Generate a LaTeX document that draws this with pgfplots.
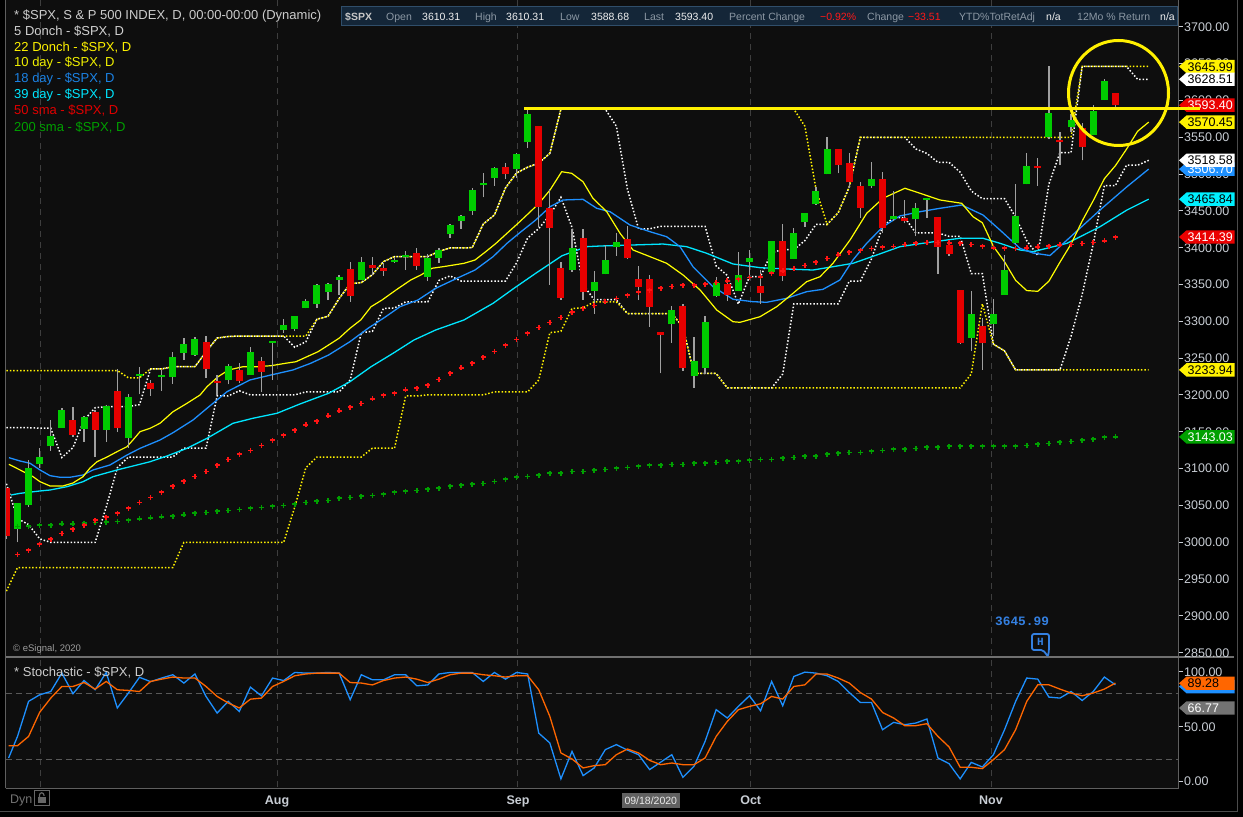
\documentclass[border=0pt]{standalone}
\usepackage{pgfplots}
\pgfplotsset{compat=1.18}
\usepackage{pgfplotstable}
\usepackage{fontspec}
\setmainfont{Liberation Sans}
\newfontfamily\monofont{Liberation Mono}
\definecolor{bgc}{RGB}{14,14,14}
\definecolor{cgreen}{RGB}{0,204,0}
\definecolor{cred}{RGB}{230,0,0}
\definecolor{wick}{RGB}{160,160,160}
\definecolor{maten}{RGB}{255,255,0}
\definecolor{maeight}{RGB}{30,144,255}
\definecolor{mathirty}{RGB}{0,230,255}
\definecolor{smafifty}{RGB}{255,20,20}
\definecolor{smatwo}{RGB}{0,160,0}
\definecolor{stk}{RGB}{30,144,255}
\definecolor{std}{RGB}{255,102,0}
\definecolor{lbl}{RGB}{200,205,212}
\definecolor{gridc}{RGB}{62,62,62}
\definecolor{gridlev}{RGB}{88,88,88}
\definecolor{framec}{RGB}{95,95,95}
\definecolor{framesep}{RGB}{112,112,112}
\definecolor{framedim}{RGB}{76,76,76}
\definecolor{barbg}{RGB}{20,38,56}
\definecolor{barbd}{RGB}{48,78,106}
\definecolor{barlab}{RGB}{140,152,164}
\definecolor{tagred}{RGB}{235,0,0}
\definecolor{tagcyan}{RGB}{0,240,255}
\definecolor{hblue}{RGB}{52,128,225}
\definecolor{circy}{RGB}{255,240,0}

\pgfplotstableread{
x o h l c
0 3018.59 3053.89 2999.74 3053.24
1 3050.20 3111.51 3047.83 3100.29
2 3105.92 3128.44 3101.17 3115.86
3 3143.64 3165.81 3124.52 3130.01
4 3155.29 3182.59 3155.29 3179.72
6 3153.07 3171.80 3136.53 3169.94
8 3152.47 3186.82 3136.22 3185.04
10 3141.11 3200.95 3127.66 3197.52
11 3225.98 3238.28 3200.76 3226.56
13 3224.21 3233.52 3205.65 3224.73
14 3224.29 3258.61 3215.16 3251.84
15 3268.52 3277.29 3247.77 3257.30
16 3254.86 3279.32 3253.10 3276.02
19 3219.84 3241.43 3214.25 3239.41
21 3227.22 3264.74 3227.22 3258.44
23 3270.45 3272.17 3220.26 3271.12
24 3288.26 3302.73 3284.53 3294.61
25 3289.92 3306.84 3286.37 3306.51
26 3317.37 3330.77 3317.37 3327.77
27 3323.17 3351.03 3318.14 3349.16
28 3340.05 3352.54 3328.72 3351.28
29 3356.04 3363.29 3335.44 3360.47
31 3355.46 3387.89 3355.46 3380.35
34 3380.86 3387.59 3379.22 3381.99
35 3387.04 3395.06 3370.15 3389.78
37 3360.48 3390.80 3354.69 3385.51
38 3386.01 3399.96 3379.31 3397.16
39 3418.09 3432.09 3413.13 3431.28
40 3435.95 3444.21 3425.84 3443.62
41 3449.97 3481.07 3444.15 3478.73
42 3485.14 3501.38 3468.35 3484.55
43 3494.69 3509.23 3484.32 3508.01
45 3507.44 3528.03 3494.60 3526.65
46 3543.76 3588.11 3535.23 3580.84
50 3369.82 3424.77 3366.84 3398.96
52 3352.70 3368.95 3310.47 3340.97
53 3363.56 3402.93 3363.56 3383.54
54 3407.73 3419.48 3389.25 3401.20
59 3295.75 3320.31 3270.95 3315.57
61 3226.14 3278.70 3209.45 3246.59
62 3236.66 3306.88 3228.44 3298.46
63 3333.90 3360.74 3332.91 3351.60
65 3341.21 3393.56 3340.47 3363.00
66 3385.87 3397.18 3361.39 3380.80
68 3367.27 3409.57 3367.27 3408.60
70 3384.56 3426.26 3384.56 3419.44
71 3434.28 3447.28 3428.15 3446.83
72 3459.67 3482.34 3458.07 3477.14
73 3500.02 3549.85 3499.61 3534.22
77 3493.50 3515.76 3480.45 3483.81
79 3439.38 3476.93 3435.65 3443.12
81 3438.50 3460.53 3415.34 3453.49
82 3464.90 3466.46 3440.45 3465.39
86 3277.17 3341.05 3259.82 3310.11
88 3296.20 3330.14 3279.74 3310.24
89 3336.25 3389.49 3336.25 3369.16
90 3406.46 3486.25 3405.17 3443.44
91 3485.74 3529.05 3485.74 3510.45
93 3583.04 3645.99 3547.48 3550.50
95 3563.22 3581.16 3557.00 3572.66
97 3552.57 3593.66 3552.57 3585.15
98 3600.16 3628.51 3600.16 3626.91
}\greenC

\pgfplotstableread{
x o h l c
-1 3073.17 3073.73 3004.63 3009.05
5 3166.44 3184.15 3142.93 3145.32
7 3176.17 3179.78 3115.70 3152.05
9 3205.08 3235.32 3149.43 3155.22
12 3208.36 3220.39 3198.59 3215.57
17 3271.64 3279.99 3222.66 3235.66
18 3218.58 3227.26 3200.05 3215.63
20 3234.27 3243.72 3216.17 3218.44
22 3231.76 3250.92 3204.13 3246.22
30 3370.34 3381.01 3326.44 3333.69
32 3372.95 3387.24 3363.35 3373.43
33 3368.66 3378.51 3361.64 3372.85
36 3392.51 3399.54 3369.66 3374.85
44 3509.73 3514.77 3493.25 3500.31
47 3564.74 3564.85 3427.41 3455.06
48 3453.60 3479.15 3349.63 3426.96
49 3371.88 3379.97 3329.27 3331.84
51 3412.56 3425.55 3329.25 3339.19
55 3411.23 3428.92 3384.45 3385.49
56 3346.86 3375.17 3328.82 3357.01
57 3357.38 3362.27 3292.40 3319.47
58 3285.57 3285.57 3229.10 3281.06
60 3320.11 3323.35 3232.57 3236.92
64 3350.92 3357.92 3327.54 3335.47
67 3338.94 3369.10 3323.69 3348.42
69 3408.74 3431.56 3354.54 3360.97
74 3534.01 3534.01 3500.86 3511.93
75 3515.47 3527.94 3480.55 3488.67
76 3453.72 3489.08 3440.89 3483.34
78 3493.66 3502.42 3419.93 3426.92
80 3439.91 3464.86 3433.06 3435.56
83 3441.42 3441.42 3364.86 3400.97
84 3403.15 3409.51 3388.71 3390.68
85 3342.48 3342.48 3268.89 3271.03
87 3293.59 3304.93 3233.94 3269.96
92 3508.34 3521.58 3484.34 3509.44
94 3543.26 3557.22 3511.91 3545.53
96 3562.67 3569.02 3518.58 3537.01
99 3610.31 3610.31 3588.68 3593.40
}\redC

\pgfplotstableread{
x u5 l5 u22 l22
-1 3155.53 3079.39 3233.13 2933.59
0 3155.53 3032.13 3233.13 2965.66
1 3155.53 3024.01 3233.13 2965.66
2 3154.90 3004.63 3233.13 2965.66
3 3154.90 2999.74 3233.13 2965.66
4 3115.01 2999.74 3233.13 2965.66
5 3128.44 2999.74 3233.13 2965.66
6 3165.81 2999.74 3233.13 2965.66
7 3182.59 2999.74 3233.13 2965.66
8 3184.15 3047.83 3233.13 2965.66
9 3184.15 3101.17 3233.13 2965.66
10 3184.15 3115.70 3223.27 2965.66
11 3186.82 3115.70 3223.27 2965.66
12 3235.32 3115.70 3235.32 2965.66
13 3235.32 3115.70 3235.32 2965.66
14 3238.28 3115.70 3238.28 2965.66
15 3238.28 3127.66 3238.28 2999.74
16 3238.28 3127.66 3238.28 2999.74
17 3258.61 3127.66 3258.61 2999.74
18 3277.29 3198.59 3277.29 2999.74
19 3279.32 3198.59 3279.32 2999.74
20 3279.99 3205.65 3279.99 2999.74
21 3279.99 3200.05 3279.99 2999.74
22 3279.99 3200.05 3279.99 2999.74
23 3279.99 3200.05 3279.99 2999.74
24 3279.99 3200.05 3279.99 2999.74
25 3264.74 3200.05 3279.99 3047.83
26 3272.17 3204.13 3279.99 3101.17
27 3302.73 3204.13 3302.73 3115.70
28 3306.84 3204.13 3306.84 3115.70
29 3330.77 3204.13 3330.77 3115.70
30 3351.03 3220.26 3351.03 3115.70
31 3352.54 3284.53 3352.54 3115.70
32 3363.29 3286.37 3363.29 3127.66
33 3381.01 3317.37 3381.01 3127.66
34 3387.89 3318.14 3387.89 3127.66
35 3387.89 3326.44 3387.89 3198.59
36 3387.89 3326.44 3387.89 3198.59
37 3387.89 3326.44 3387.89 3200.05
38 3395.06 3355.46 3395.06 3200.05
39 3399.54 3361.64 3399.54 3200.05
40 3399.54 3354.69 3399.54 3200.05
41 3399.96 3354.69 3399.96 3200.05
42 3432.09 3354.69 3432.09 3200.05
43 3444.21 3354.69 3444.21 3204.13
44 3481.07 3354.69 3481.07 3204.13
45 3501.38 3379.31 3501.38 3204.13
46 3509.23 3413.13 3509.23 3204.13
47 3514.77 3425.84 3514.77 3220.26
48 3528.03 3444.15 3528.03 3284.53
49 3588.11 3468.35 3588.11 3286.37
50 3588.11 3427.41 3588.11 3317.37
51 3588.11 3349.63 3588.11 3318.14
52 3588.11 3329.27 3588.11 3326.44
53 3588.11 3329.27 3588.11 3326.44
54 3564.85 3329.25 3588.11 3326.44
55 3479.15 3310.47 3588.11 3310.47
56 3425.55 3310.47 3588.11 3310.47
57 3425.55 3310.47 3588.11 3310.47
58 3428.92 3310.47 3588.11 3310.47
59 3428.92 3310.47 3588.11 3310.47
60 3428.92 3292.40 3588.11 3292.40
61 3428.92 3229.10 3588.11 3229.10
62 3428.92 3229.10 3588.11 3229.10
63 3375.17 3229.10 3588.11 3229.10
64 3362.27 3209.45 3588.11 3209.45
65 3323.35 3209.45 3588.11 3209.45
66 3360.74 3209.45 3588.11 3209.45
67 3360.74 3209.45 3588.11 3209.45
68 3393.56 3209.45 3588.11 3209.45
69 3397.18 3228.44 3588.11 3209.45
70 3397.18 3323.69 3588.11 3209.45
71 3409.57 3323.69 3564.85 3209.45
72 3431.56 3323.69 3479.15 3209.45
73 3431.56 3323.69 3431.56 3209.45
74 3447.28 3323.69 3447.28 3209.45
75 3482.34 3354.54 3482.34 3209.45
76 3549.85 3354.54 3549.85 3209.45
77 3549.85 3384.56 3549.85 3209.45
78 3549.85 3428.15 3549.85 3209.45
79 3549.85 3440.89 3549.85 3209.45
80 3549.85 3440.89 3549.85 3209.45
81 3534.01 3419.93 3549.85 3209.45
82 3527.94 3419.93 3549.85 3209.45
83 3515.76 3419.93 3549.85 3209.45
84 3515.76 3415.34 3549.85 3209.45
85 3502.42 3415.34 3549.85 3209.45
86 3476.93 3364.86 3549.85 3228.44
87 3466.46 3364.86 3549.85 3323.69
88 3466.46 3268.89 3549.85 3268.89
89 3466.46 3259.82 3549.85 3259.82
90 3441.42 3233.94 3549.85 3233.94
91 3409.51 3233.94 3549.85 3233.94
92 3389.49 3233.94 3549.85 3233.94
93 3486.25 3233.94 3549.85 3233.94
94 3529.05 3233.94 3549.85 3233.94
95 3529.05 3279.74 3549.85 3233.94
96 3645.99 3336.25 3645.99 3233.94
97 3645.99 3405.17 3645.99 3233.94
98 3645.99 3484.34 3645.99 3233.94
99 3645.99 3484.34 3645.99 3233.94
100 3645.99 3511.91 3645.99 3233.94
101 3628.51 3511.91 3645.99 3233.94
102 3628.51 3518.58 3645.99 3233.94
}\donch

\pgfplotstableread{
x y
-0.77 3105.8
0.23 3098.1
1.40 3089.0
2.03 3082.2
2.93 3076.4
4.10 3076.4
5.00 3080.4
5.91 3089.0
6.54 3100.8
7.17 3109.3
8.07 3115.7
8.97 3122.9
9.87 3129.7
10.41 3138.8
11.05 3150.1
11.95 3154.7
12.85 3161.5
14.02 3177.2
15.28 3188.6
16.46 3199.9
17.09 3211.2
18.08 3224.7
19.04 3233.9
20.33 3238.3
21.60 3238.3
22.86 3239.7
24.18 3243.0
25.11 3245.1
26.10 3251.9
27.10 3258.7
28.05 3267.8
28.99 3276.9
29.98 3290.5
30.95 3301.8
31.88 3319.8
32.87 3328.9
34.13 3342.5
35.46 3356.1
36.38 3362.9
37.38 3372.0
38.37 3374.1
39.32 3376.4
40.26 3378.7
41.25 3383.2
42.22 3394.5
43.15 3405.9
44.14 3419.5
45.13 3433.0
46.09 3446.6
47.03 3460.2
48.02 3478.3
49.07 3503.1
49.97 3500.9
50.99 3489.5
51.89 3467.0
53.13 3448.8
54.33 3419.5
55.50 3396.8
57.04 3387.7
58.54 3378.7
60.01 3362.9
61.55 3342.5
63.05 3315.3
64.52 3299.4
65.15 3298.6
66.95 3306.2
68.46 3319.8
69.93 3338.0
71.16 3353.8
72.36 3360.5
73.53 3378.7
75.07 3410.4
76.57 3446.6
78.04 3467.0
80.02 3480.6
81.38 3473.8
83.18 3464.7
85.14 3460.2
86.16 3442.0
87 3433.8
88 3401.7
89 3380.8
90 3355.6
91 3341.7
92 3340.7
93 3354.4
94 3380.3
95 3404.9
96 3436.1
97 3463.8
98 3493.5
99 3511.3
100 3533.7
101 3558.0
102 3570.45
}\maTen

\pgfplotstableread{
x y
-0.77 3114.8
0.23 3110.3
1.13 3107.2
2.03 3098.1
2.93 3090.4
3.83 3088.2
4.73 3088.2
5.91 3091.3
6.81 3098.1
8.34 3104.9
9.87 3118.4
11.05 3127.5
12.85 3138.8
14.02 3148.7
15.83 3166.0
17.09 3181.9
17.99 3193.1
18.89 3204.4
20.96 3220.3
22.86 3227.1
24.84 3233.9
26.44 3243.0
28.05 3254.2
29.98 3272.3
31.61 3290.5
33.20 3306.2
34.49 3319.8
36.11 3328.9
37.71 3344.8
39.63 3358.4
41.25 3369.6
42.88 3387.7
44.14 3405.9
45.40 3421.6
46.73 3437.5
48.02 3455.6
49.19 3464.7
50.99 3465.6
52.23 3453.4
53.43 3448.8
55.23 3430.7
57.04 3421.6
58.54 3414.8
59.74 3401.3
60.91 3374.1
62.71 3347.0
64.52 3329.9
66.32 3326.6
67.56 3325.8
69.36 3331.2
71.16 3340.2
72.63 3343.4
74.16 3356.1
75.33 3383.2
76.57 3405.9
78.04 3428.4
79.57 3443.0
81.38 3448.8
83.18 3453.4
85.14 3457.9
87.06 3444.3
88.59 3423.9
90.39 3399.1
91.57 3392.7
93.1 3389.3
94.64 3410.4
97.61 3451.1
100.04 3482.7
102 3506.70
}\maEighteen

\pgfplotstableread{
x y
-0.59 3064.1
0.23 3066.4
2.03 3069.6
2.93 3070.9
4.46 3075.4
5.91 3082.2
6.81 3089.0
8.97 3098.1
10.41 3103.5
11.95 3109.3
13.48 3117.1
15.28 3127.5
17.09 3141.1
19.43 3161.5
21.23 3168.3
23.40 3175.1
25.47 3187.7
28.05 3202.2
29.98 3218.0
31.88 3238.3
33.86 3256.5
35.75 3274.6
37.71 3288.2
40.26 3301.8
42.88 3324.4
44.77 3344.8
46.73 3365.2
49.1 3389.0
51.32 3401.3
52.53 3402.2
55.50 3403.6
58.21 3404.9
60.34 3401.3
62.15 3392.3
64.52 3377.8
66.95 3372.8
69.36 3371.0
71.73 3369.6
73.53 3374.1
75.33 3378.7
77.48 3390.0
79.57 3401.3
81.98 3406.7
84.98 3412.7
87.06 3412.7
88.59 3405.9
90.39 3396.8
91.57 3394.5
94.64 3405.9
97.61 3428.4
100.04 3451.1
102 3465.84
}\maThirtyNine

\pgfplotstableread{
x s50 s200
0 2983.6 3021.4
1 2989.1 3022.0
2 2997.2 3023.0
3 3004.0 3023.0
4 3012.1 3024.8
5 3017.6 3024.8
6 3023.0 3026.1
7 3029.8 3026.8
8 3033.9 3027.1
9 3039.3 3028.4
10 3046.1 3029.8
11 3054.2 3031.6
12 3061.0 3032.9
13 3067.8 3034.3
14 3076.0 3035.6
15 3082.8 3037.0
16 3089.5 3039.3
17 3096.3 3040.6
18 3104.5 3042.0
19 3112.6 3043.3
20 3119.4 3044.7
21 3124.5 3046.1
22 3131.6 3047.4
23 3138.4 3048.8
24 3145.3 3050.1
25 3152.1 3051.5
26 3159.2 3054.2
27 3164.6 3055.6
28 3171.4 3056.9
29 3178.2 3059.7
30 3183.6 3061.0
31 3188.6 3062.4
32 3194.5 3063.7
33 3199.9 3065.1
34 3202.6 3067.8
35 3206.7 3069.2
36 3209.4 3070.5
37 3213.1 3071.9
38 3221.2 3073.3
39 3229.4 3076.0
40 3236.6 3077.3
41 3243.0 3078.7
42 3251.1 3080.0
43 3259.2 3082.7
44 3267.4 3085.5
45 3275.5 3088.2
46 3283.7 3089.5
47 3291.6 3090.9
48 3298.6 3093.6
49 3305.4 3093.6
50 3312.6 3096.3
51 3317.6 3096.3
52 3321.7 3097.7
53 3327.1 3099.0
54 3331.2 3100.4
55 3335.3 3101.7
56 3339.4 3103.1
57 3342.1 3104.5
58 3344.8 3104.5
59 3347.0 3105.8
60 3348.9 3105.8
61 3348.9 3107.2
62 3350.6 3107.2
63 3352.4 3108.5
64 3355.1 3109.9
65 3357.4 3109.9
66 3359.7 3111.3
67 3360.5 3112.6
68 3365.2 3112.6
69 3368.6 3114.0
70 3371.9 3115.3
71 3376.0 3116.7
72 3380.1 3116.7
73 3385.5 3119.4
74 3390.0 3120.8
75 3393.7 3122.1
76 3396.4 3122.1
77 3398.6 3123.5
78 3400.5 3124.8
79 3401.8 3126.2
80 3404.5 3126.2
81 3405.9 3127.5
82 3407.2 3128.9
83 3407.0 3128.9
84 3406.3 3130.3
85 3405.9 3130.3
86 3404.5 3130.3
87 3402.2 3130.3
88 3399.9 3130.3
89 3399.1 3130.3
90 3398.8 3130.3
91 3399.9 3131.6
92 3400.9 3133.0
93 3402.2 3134.3
94 3403.6 3135.7
95 3404.5 3137.0
96 3405.6 3138.4
97 3407.0 3139.8
98 3409.4 3142.5
99 3414.4 3143.0
}\smas

\pgfplotstableread{
x k d
-0.8 21.3 32.5
0 41 32.5
1 73 41
2 79 63
3 82 76
4 98.8 86.6
5 80 86.6
6 92 90.2
7 83.6 84.2
8 99.4 91.2
9 67 83.6
10 80.6 83
11 95 82
12 91 91.2
13 94.3 93.3
14 97.3 95.2
15 89.7 94.3
16 98 94.3
17 77.5 86.6
18 62.3 77.5
19 73 71.5
20 63.8 67
21 86 75
22 78 76
23 94.3 86.6
24 92 91.2
25 99.4 96.4
26 98.8 98
27 98.8 98.8
28 99.4 98.8
29 98.8 98.8
30 74.5 90.2
31 97.3 89.7
32 92.7 88
33 92.7 92
34 97.3 94.3
35 97.3 95.2
36 87.2 93.3
37 88 90.2
38 98 93.3
39 99.4 97.3
40 99.4 98.8
41 99.4 98.8
42 91.2 97.3
43 99.4 96.4
44 93.3 95.2
45 99.4 96.4
46 98 96.4
47 44 83.6
48 35 59.3
49 2.2 25.9
50 27.3 20.4
51 5.2 12.2
52 12.2 14.3
53 28.9 15.2
54 33.5 24.3
55 28.5 29.5
56 24.3 25.9
57 10.7 19.1
58 17.5 15.2
59 24.3 16.7
60 3.6 15.2
61 13.7 15.2
62 36.5 21.3
63 65.4 41
64 57.8 54.7
65 68.4 65.4
66 78.1 68.4
67 64.4 70.8
68 91.2 77.5
69 69 75.1
70 95.7 86.6
71 99.7 88.1
72 98.8 97.9
73 96.4 97.9
74 91.2 94.3
75 81.1 89.7
76 72 81.1
77 72 75.1
78 47.1 62.9
79 53.8 57.8
80 51.7 50.8
81 53.2 50.8
82 56.9 52.6
83 21.3 41
84 16.1 31.4
85 2.2 12.8
86 17.3 12.8
87 13.1 11.6
88 24.3 19.8
89 47.1 28.9
90 72.9 47.1
91 94.3 72.9
92 93.3 88.1
93 76.9 88.1
94 76 84.2
95 82 80.6
96 73.8 78.1
97 82 80.6
98 95.2 84.2
99 88.1 89.7
}\stoch

\newcommand{\tx}[5]{\node[anchor=base west,inner sep=0pt,text=#4,font=\fontsize{#3}{#3}\selectfont] at (#1,{817-#2}) {#5};}
\newcommand{\ptag}[4]{%
  \fill[#2] (1179,{817-#1}) -- (1186.5,{817-#1+6.7}) -- (1234.5,{817-#1+6.7}) -- (1234.5,{817-#1-6.7}) -- (1186.5,{817-#1-6.7}) -- cycle;
  \node[anchor=base west,inner sep=0pt,text=#3,font=\fontsize{12.5}{12.5}\selectfont] at (1187.5,{817-#1-4.6}) {#4};}

\begin{document}
\begin{tikzpicture}
\path[use as bounding box] (0,0) rectangle (1243pt,817pt);
\begin{scope}[x=1pt,y=1pt]
\fill[black] (0,0) rectangle (1243,817);
\fill[bgc] (6,159.5) rectangle (1178.5,817);
\fill[bgc] (6,28.7) rectangle (1178.5,159.5);
\foreach \gx in {40,277.5,517,750,991} {
  \draw[gridc, line width=1pt, dash pattern=on 6pt off 5pt] (\gx,817) -- (\gx,28.7);
}
\draw[gridlev, line width=1pt, dash pattern=on 6pt off 4pt] (6,123.3) -- (1178.5,123.3);
\draw[gridlev, line width=1pt, dash pattern=on 6pt off 4pt] (6,57.6) -- (1178.5,57.6);
\end{scope}

\begin{axis}[at={(6pt,159.5pt)}, anchor=south west, scale only axis,
  width=1172.5pt, height=657.5pt,
  xmin=-1.037, xmax=104.689, ymin=2843.49, ymax=3736.25,
  hide axis, clip=true]
\addplot[white, line width=1.5pt, dash pattern=on 1.5pt off 1.9pt] table[x=x,y=u5] {\donch};
\addplot[white, line width=1.5pt, dash pattern=on 1.5pt off 1.9pt] table[x=x,y=l5] {\donch};
\addplot[yellow, line width=1.5pt, dash pattern=on 1.5pt off 1.9pt] table[x=x,y=u22] {\donch};
\addplot[yellow, line width=1.5pt, dash pattern=on 1.5pt off 1.9pt] table[x=x,y=l22] {\donch};
\addplot[only marks, mark=+, mark size=2.5pt, smatwo, line width=1.6pt] table[x=x,y=s200] {\smas};
\addplot[only marks, mark=+, mark size=2.5pt, smafifty, line width=1.6pt] table[x=x,y=s50] {\smas};
\addplot[mathirty, line width=1.3pt] table {\maThirtyNine};
\addplot[maeight, line width=1.3pt] table {\maEighteen};
\addplot[maten, line width=1.2pt] table {\maTen};
\addplot[draw=none, forget plot, error bars/.cd, y dir=both, y explicit, error mark=none,
  error bar style={draw=wick, line width=1.3pt}]
  table[x=x, y=l, y error plus expr={\thisrow{h}-\thisrow{l}}, y error minus expr={0}] {\greenC};
\addplot[draw=none, forget plot, error bars/.cd, y dir=both, y explicit, error mark=none,
  error bar style={draw=wick, line width=1.3pt}]
  table[x=x, y=l, y error plus expr={\thisrow{h}-\thisrow{l}}, y error minus expr={0}] {\redC};
\addplot[draw=none, forget plot, error bars/.cd, y dir=both, y explicit, error mark=none,
  error bar style={draw=cgreen, line width=7pt}]
  table[x=x, y expr={min(\thisrow{o},\thisrow{c})}, y error plus expr={max(abs(\thisrow{c}-\thisrow{o}),3)}, y error minus expr={0}] {\greenC};
\addplot[draw=none, forget plot, error bars/.cd, y dir=both, y explicit, error mark=none,
  error bar style={draw=cred, line width=7pt}]
  table[x=x, y expr={min(\thisrow{o},\thisrow{c})}, y error plus expr={max(abs(\thisrow{c}-\thisrow{o}),3)}, y error minus expr={0}] {\redC};
\end{axis}

\begin{axis}[at={(6pt,28.7pt)}, anchor=south west, scale only axis,
  width=1172.5pt, height=130.8pt,
  xmin=-1.037, xmax=104.689, ymin=-6.39, ymax=113.06,
  hide axis, clip=true]
\addplot[stk, line width=1.3pt] table[x=x,y=k] {\stoch};
\addplot[std, line width=1.3pt] table[x=x,y=d] {\stoch};
\end{axis}

\begin{scope}[x=1pt,y=1pt]
\draw[framec, line width=1pt] (5.5,28.7) -- (5.5,817);
\draw[framec, line width=1.2pt] (1178.5,28.7) -- (1178.5,817);
\draw[framesep, line width=2pt] (5.5,159.5) -- (1234,159.5);
\draw[framec, line width=1.2pt] (5.5,28.7) -- (1178.5,28.7);
\draw[framedim, line width=1.2pt] (1237.3,5.3) -- (1237.3,817);
\draw[framedim, line width=1.2pt] (0,5.3) -- (1237.3,5.3);

\tx{14}{19.7}{13}{black!20}{* \$SPX, S \& P 500 INDEX, D, 00:00-00:00 (Dynamic)}
\tx{14}{35.4}{13}{black!18}{5 Donch - \$SPX, D}
\tx{14}{51.4}{13}{yellow}{22 Donch - \$SPX, D}
\tx{14}{67.0}{13}{maten!94!black}{10 day - \$SPX, D}
\tx{14}{83.0}{13}{maeight!90!black}{18 day - \$SPX, D}
\tx{14}{99.0}{13}{mathirty}{39 day - \$SPX, D}
\tx{14}{114.7}{13}{red!88!black}{50 sma - \$SPX, D}
\tx{14}{131.4}{13}{smatwo}{200 sma - \$SPX, D}

\filldraw[fill=barbg, draw=barbd, line width=1pt] (341,{817-25.5}) rectangle (1177,{817-6.5});
\node[anchor=base west,inner sep=0pt,text=black!22,font=\fontsize{10.5}{10.5}\selectfont\bfseries] at (345,{817-20.3}) {\$SPX};
\tx{386}{20.3}{10.5}{barlab}{Open}
\tx{422}{20.3}{10.5}{black!6}{3610.31}
\tx{475}{20.3}{10.5}{barlab}{High}
\tx{506}{20.3}{10.5}{black!6}{3610.31}
\tx{560}{20.3}{10.5}{barlab}{Low}
\tx{591}{20.3}{10.5}{black!6}{3588.68}
\tx{644}{20.3}{10.5}{barlab}{Last}
\tx{675}{20.3}{10.5}{black!6}{3593.40}
\tx{729}{20.3}{10.5}{barlab}{Percent Change}
\tx{820}{20.3}{10.5}{red!90!white}{−0.92\%}
\tx{867}{20.3}{10.5}{barlab}{Change}
\tx{908}{20.3}{10.5}{red!90!white}{−33.51}
\tx{959}{20.3}{10.5}{barlab}{YTD\%TotRetAdj}
\tx{1046}{20.3}{10.5}{black!6}{n/a}
\tx{1077}{20.3}{10.5}{barlab}{12Mo \% Return}
\tx{1160}{20.3}{10.5}{black!6}{n/a}

\foreach \yy/\lab in {26.7/3700.00, 63.5/3650.00, 100.3/3600.00, 137.2/3550.00, 174.0/3500.00, 210.8/3450.00, 247.6/3400.00, 284.4/3350.00, 321.2/3300.00, 358.1/3250.00, 394.9/3200.00, 431.7/3150.00, 468.5/3100.00, 505.3/3050.00, 542.2/3000.00, 579.0/2950.00, 615.8/2900.00, 652.6/2850.00, 671.8/100.00, 726.55/50.00, 781.3/0.00} {
  \draw[lbl, line width=0.9pt] (1178.5,{817-\yy}) -- (1183,{817-\yy});
  \node[anchor=base west,inner sep=0pt,text=lbl,font=\fontsize{12.5}{12.5}\selectfont] at (1184,{817-\yy-4.5}) {\lab};
}

\ptag{66.5}{yellow}{black}{3645.99}
\ptag{79.3}{white}{black}{3628.51}
\ptag{169.1}{maeight}{white}{3506.70}
\ptag{160.3}{white}{black}{3518.58}
\ptag{199.2}{tagcyan}{black}{3465.84}
\ptag{237.0}{tagred}{white}{3414.39}
\ptag{122.1}{yellow}{black}{3570.45}
\ptag{105.2}{tagred}{white}{3593.40}
\ptag{369.9}{yellow}{black}{3233.94}
\ptag{436.9}{smatwo}{white}{3143.03}
\ptag{686.6}{stk}{white}{}
\ptag{683.3}{std}{black}{89.28}
\ptag{708.0}{black!55}{white}{66.77}

\draw[circy, line width=3pt] (524,{817-108.6}) -- (1200,{817-108.6});
\draw[circy, line width=3pt] (1118.5,{817-93}) ellipse [x radius=50, y radius=52.5];

\tx{14}{677}{13}{black!20}{* Stochastic - \$SPX, D}
\tx{13}{651.5}{9.5}{black!38}{© eSignal, 2020}

\node[anchor=base west,inner sep=0pt,text=hblue,font=\fontsize{12.8}{12.8}\selectfont\monofont\bfseries] at (995,{817-626}) {3645.99};
\filldraw[draw=hblue, fill=bgc, line width=1.8pt, rounded corners=2pt] (1032,{817-634}) -- (1049,{817-634}) -- (1049,{817-650}) -- (1048,{817-656.5}) -- (1043,{817-650}) -- (1032,{817-650}) -- cycle;
\node[text=hblue,font=\fontsize{11}{11}\selectfont\monofont\bfseries,inner sep=0pt] at (1040.5,{817-642}) {H};

\node[anchor=base,inner sep=0pt,text=lbl,font=\fontsize{12.5}{12.5}\selectfont\bfseries] at (277,{817-805}) {Aug};
\node[anchor=base,inner sep=0pt,text=lbl,font=\fontsize{12.5}{12.5}\selectfont\bfseries] at (518,{817-805}) {Sep};
\node[anchor=base,inner sep=0pt,text=lbl,font=\fontsize{12.5}{12.5}\selectfont\bfseries] at (750.7,{817-805}) {Oct};
\node[anchor=base,inner sep=0pt,text=lbl,font=\fontsize{12.5}{12.5}\selectfont\bfseries] at (991,{817-805}) {Nov};
\fill[black!62] (622,{817-808.3}) rectangle (679.6,{817-793.3});
\node[anchor=base,inner sep=0pt,text=black!8,font=\fontsize{10.5}{10.5}\selectfont] at (650.8,{817-804.5}) {09/18/2020};
\tx{10}{804}{12.5}{black!55}{Dyn}
\draw[black!60, line width=1pt] (34.4,{817-790.7}) rectangle (49.4,{817-805.7});
\draw[black!60, line width=1.2pt] (39.5,{817-797.5}) -- (39.5,{817-795}) arc[start angle=180,end angle=0,radius=2.2] -- (43.9,{817-796});
\fill[black!60] (38,{817-797.5}) rectangle (46,{817-803.5});
\end{scope}
\end{tikzpicture}
\end{document}
